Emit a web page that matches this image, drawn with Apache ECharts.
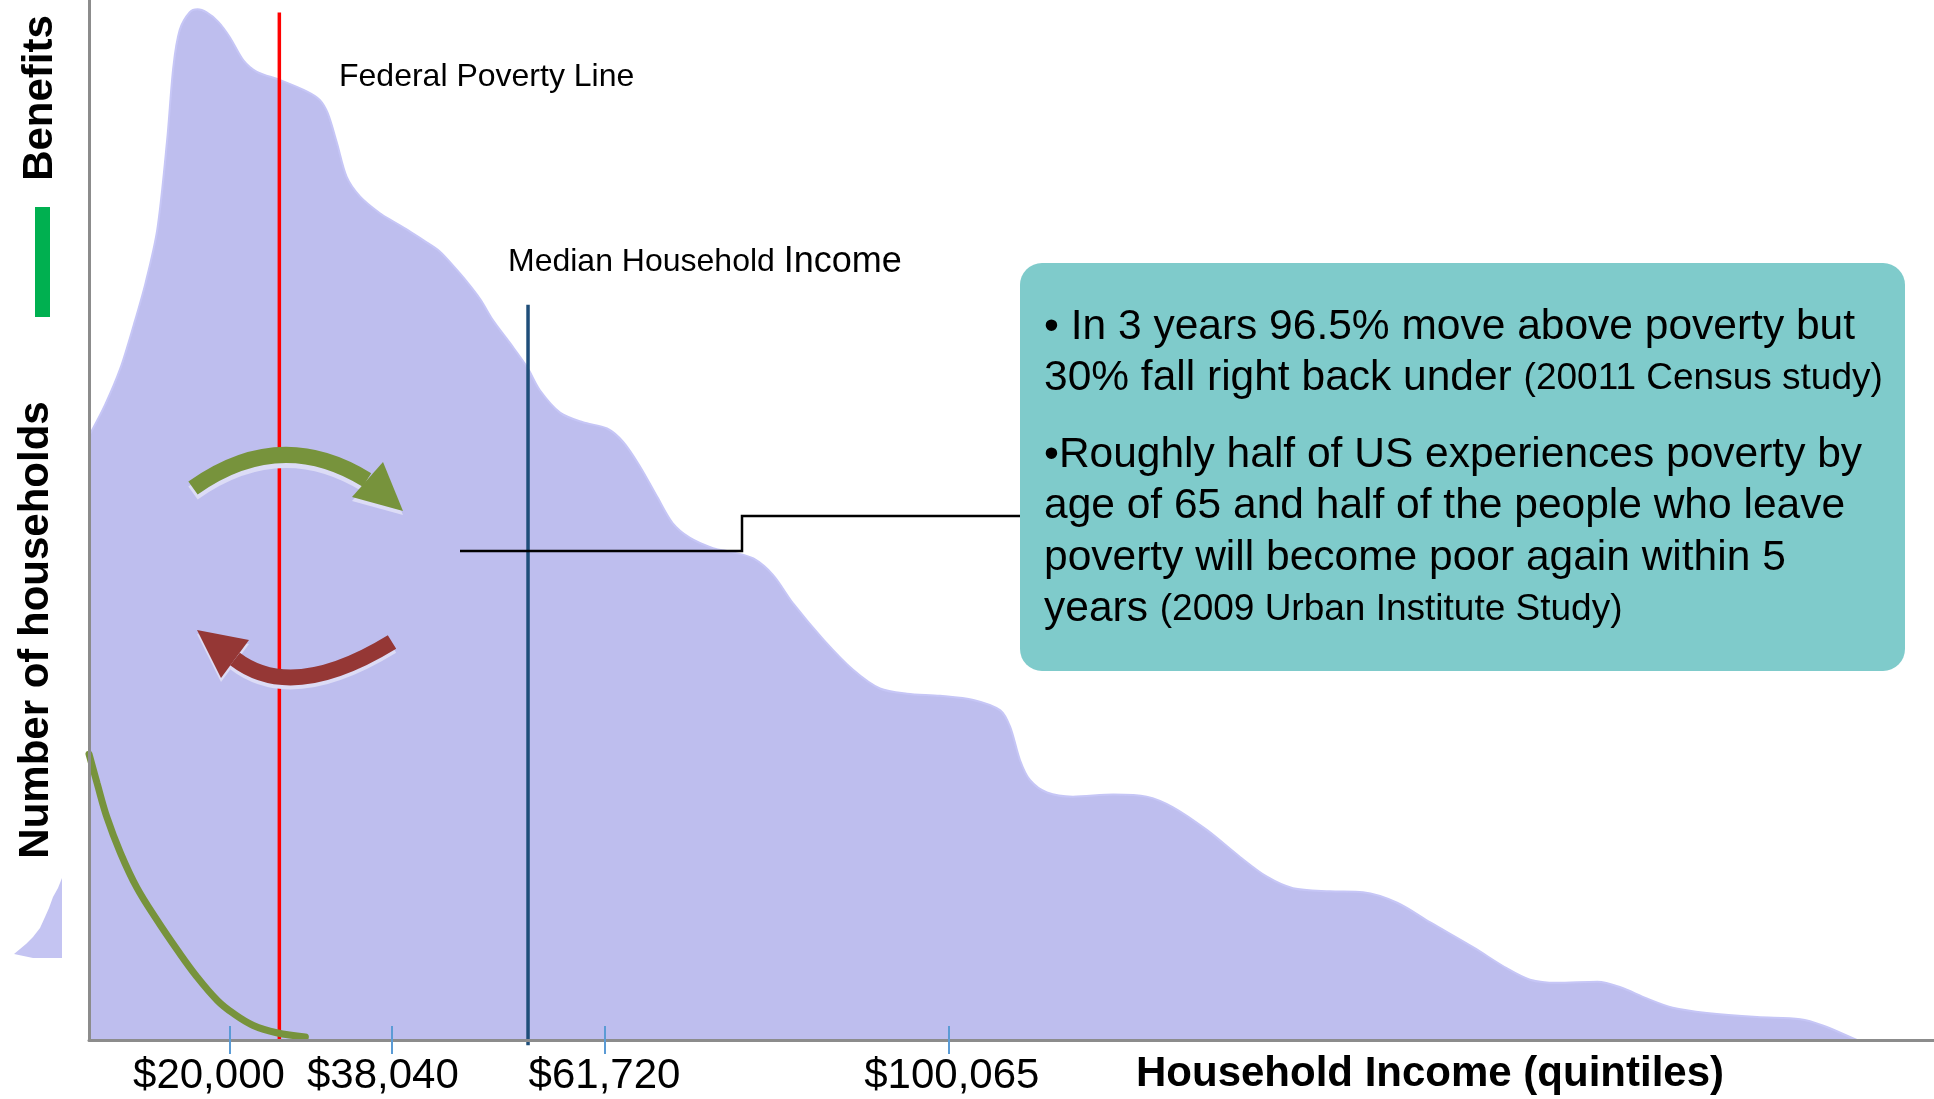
<!DOCTYPE html>
<html>
<head>
<meta charset="utf-8">
<style>
  html, body { margin: 0; padding: 0; background: #ffffff; }
  #chart { width: 1934px; height: 1099px; }
</style>
<script src="https://cdn.jsdelivr.net/npm/echarts@6/dist/echarts.min.js"></script>
</head>
<body>
<div id="chart"></div>
<script>
// ---------------- data ----------------
// Household income ($) and relative number of households (0-100 scale)
const INCOME = [
  4300, 6100, 7800, 9300, 10600, 11900, 13000, 13700, 14400, 15500, 16400,
  17400, 18700, 20000, 21500, 23000, 25600, 28600, 30000, 30900, 31900,
  33000, 34500, 36700, 38200, 40100, 41900, 43400, 44800, 46400, 47900,
  49300, 51200, 53100, 54500, 56800, 59300, 62000, 63800, 65700, 67600,
  69300, 71200, 73800, 76000, 78300, 80500, 82700, 86100, 89400, 92400,
  95400, 99100, 102800, 105800, 106900, 108000, 109100, 111000, 113900, 118400,
  122100, 125000, 128800, 132500, 135500, 138400, 142500, 146200, 150000, 153700,
  158500, 162200, 164800, 167800, 172300, 174800, 177800, 180700, 184500, 190100,
  194900, 197400, 201200
];
const HOUSEHOLDS = [
  58.1, 61.1, 64.6, 68.8, 72.8, 77.9, 86.5, 93.6, 97.1, 98.8, 99.1,
  98.8, 97.9, 96.4, 94.2, 93.1, 92.3, 91.2, 90.4, 89.1, 86.3,
  83.0, 81.1, 79.5, 78.7, 77.7, 76.7, 75.8, 74.5, 72.9, 71.2,
  69.2, 67.0, 64.7, 62.5, 60.3, 59.4, 58.8, 57.5, 55.1, 52.2,
  49.7, 48.3, 47.3, 46.9, 46.3, 44.7, 42.0, 38.5, 35.6, 33.8,
  33.3, 33.1, 32.7, 31.7, 30.1, 26.9, 25.0, 23.8, 23.4, 23.6,
  23.4, 22.4, 20.2, 17.6, 15.7, 14.6, 14.3, 14.2, 13.2, 11.3,
  8.9, 6.9, 5.8, 5.5, 5.6, 5.1, 4.0, 3.1, 2.6, 2.2,
  2.0, 1.4, 0.0
];
// Benefits curve (same scales)
const BENEFIT_INCOME = [4300, 5200, 6300, 7800, 9600, 11900, 14100, 16300, 18600, 20300, 22600, 25200, 28400];
const BENEFIT_LEVEL  = [27.5, 24.7, 21.4, 18.0, 14.7, 11.5, 8.7, 6.1, 3.8, 2.6, 1.4, 0.7, 0.3];
// Reference lines
const POVERTY_LINE = 25500;
const POVERTY_LINE_TOP = 98.8;
const MEDIAN_INCOME = 53200;
const MEDIAN_LINE_TOP = 70.7;
// Axis
const X_MIN = 4300;
const X_MAX = 209800;
const TICK_VALUES = [20000, 38040, 61720, 100065];
const TICK_LABELS = ['$20,000', '$38,040', '$61,720', '$100,065'];
// Texts
const X_TITLE = 'Household Income (quintiles)';
const Y_TITLE = 'Number of households';
const Y_TITLE_TOP = 'Benefits';
const POVERTY_LABEL = 'Federal Poverty Line';
const MEDIAN_LABEL_A = 'Median Household ';
const MEDIAN_LABEL_B = 'Income';
const BOX_LINES = [
  ['• In 3 years 96.5% move above poverty but', ''],
  ['30% fall right back under ', '(20011 Census study)'],
  ['•Roughly half of US experiences poverty by', ''],
  ['age of 65 and half of the people who leave', ''],
  ['poverty will become poor again within 5', ''],
  ['years ', '(2009 Urban Institute Study)']
];

// ---------------- chart ----------------
const FONT = "'Liberation Sans', Arial, Helvetica, sans-serif";
const households = INCOME.map((x, i) => [x, HOUSEHOLDS[i]]);
const benefits = BENEFIT_INCOME.map((x, i) => [x, BENEFIT_LEVEL[i]]);
const tickLabelOf = v => {
  const i = TICK_VALUES.indexOf(v);
  return i >= 0 ? '{t' + i + '|' + TICK_LABELS[i] + '}' : '';
};
const tickBase = { fontSize: 42, fontFamily: FONT, color: '#000' };
const tickRich = {
  t0: Object.assign({ padding: [0, 42, 0, 0] }, tickBase),
  t1: Object.assign({ padding: [0, 18, 0, 0] }, tickBase),
  t2: Object.assign({}, tickBase),
  t3: Object.assign({ padding: [0, 0, 0, 6] }, tickBase)
};

const boxLineY = [327, 378.5, 455, 506.5, 558, 609.5];
const boxTexts = BOX_LINES.map((pair, i) => ({
  type: 'text',
  x: 1044,
  y: boxLineY[i] - 24,
  z: 120,
  style: {
    text: pair[1] ? '{a|' + pair[0] + '}{b|' + pair[1] + '}' : '{a|' + pair[0] + '}',
    rich: {
      a: { fontSize: 42.5, fontFamily: FONT, fill: '#000', height: 48 },
      b: { fontSize: 37, fontFamily: FONT, fill: '#000', height: 48 }
    }
  }
}));

function arc(x1, y1, cx, cy, x2, y2, color, z) {
  return {
    type: 'bezierCurve', z: z,
    shape: { x1: x1, y1: y1, x2: x2, y2: y2, cpx1: cx, cpy1: cy },
    style: { stroke: color, lineWidth: 16, fill: null, lineCap: 'butt' }
  };
}

const chart = echarts.init(document.getElementById('chart'), null, { renderer: 'canvas' });
chart.setOption({
  backgroundColor: '#ffffff',
  animation: false,
  grid: { left: 89, right: 0, top: 0, bottom: 59, containLabel: false, outerBoundsMode: 'none' },
  xAxis: [
    {
      type: 'value', min: X_MIN, max: X_MAX, position: 'bottom', z: 10,
      axisLine: { show: true, lineStyle: { color: '#8c8c8c', width: 3 } },
      axisTick: { show: true, length: 14, customValues: TICK_VALUES, lineStyle: { color: '#5b9bd5', width: 2 } },
      axisLabel: {
        show: true, customValues: TICK_VALUES, margin: 15,
        formatter: tickLabelOf, rich: tickRich,
        fontSize: 42, fontFamily: FONT, color: '#000'
      },
      splitLine: { show: false }
    },
    {
      // second copy of the ticks, drawn upward from the baseline
      type: 'value', min: X_MIN, max: X_MAX, position: 'top', offset: -1040, z: 10,
      axisLine: { show: false },
      axisTick: { show: true, inside: false, length: 14, customValues: TICK_VALUES, lineStyle: { color: '#5b9bd5', width: 2 } },
      axisLabel: { show: false },
      splitLine: { show: false }
    }
  ],
  yAxis: {
    type: 'value', min: 0, max: 100, z: 10,
    axisLine: { show: true, lineStyle: { color: '#8c8c8c', width: 3 } },
    axisTick: { show: false },
    axisLabel: { show: false },
    splitLine: { show: false }
  },
  series: [
    {
      name: 'Households', type: 'line', data: households,
      smooth: 0.3, showSymbol: false, symbol: 'none', z: 1,
      lineStyle: { color: '#c6c6f6', width: 2 },
      areaStyle: { color: '#bebeee', opacity: 1 }
    },
    {
      name: 'Federal Poverty Line', type: 'line',
      data: [[POVERTY_LINE, 0], [POVERTY_LINE, POVERTY_LINE_TOP]],
      showSymbol: false, symbol: 'none', z: 3, clip: false,
      lineStyle: { color: '#ff0000', width: 3.5 }
    },
    {
      name: 'Median Household Income', type: 'line',
      data: [[MEDIAN_INCOME, -0.5], [MEDIAN_INCOME, MEDIAN_LINE_TOP]],
      showSymbol: false, symbol: 'none', z: 3, clip: false,
      lineStyle: { color: '#1f4e79', width: 3.5 }
    },
    {
      name: 'Benefits', type: 'line', data: benefits,
      smooth: 0.4, showSymbol: false, symbol: 'none', z: 4, clip: false,
      lineStyle: { color: '#77933c', width: 7, cap: 'round' }
    }
  ],
  graphic: [
    // left titles
    {
      type: 'text', x: 40, y: 98, rotation: Math.PI / 2, z: 100,
      style: { text: Y_TITLE_TOP, font: 'bold 42px ' + FONT, fill: '#000', align: 'center', verticalAlign: 'middle' }
    },
    { type: 'rect', z: 100, shape: { x: 35, y: 207, width: 15, height: 110 }, style: { fill: '#00b050' } },
    {
      type: 'text', x: 36, y: 630, rotation: Math.PI / 2, z: 100,
      style: { text: Y_TITLE, font: 'bold 42px ' + FONT, fill: '#000', align: 'center', verticalAlign: 'middle' }
    },
    // small decorative distribution glyph
    {
      type: 'polygon', z: 100,
      shape: { points: [[62, 878], [62, 958], [33, 958], [14, 954], [26, 944], [33, 937], [40, 928], [45, 917], [49, 908], [53, 897], [58, 888]] },
      style: { fill: '#c4c4f2' }
    },
    // x title
    {
      type: 'text', x: 1136, y: 1074, z: 100,
      style: { text: X_TITLE, font: 'bold 42px ' + FONT, fill: '#000', align: 'left', verticalAlign: 'middle' }
    },
    // line labels
    {
      type: 'text', x: 339, y: 77, z: 100,
      style: { text: POVERTY_LABEL, font: '32px ' + FONT, fill: '#000', align: 'left', verticalAlign: 'middle' }
    },
    {
      type: 'text', x: 508, y: 240, z: 100,
      style: {
        text: '{a|' + MEDIAN_LABEL_A + '}{b|' + MEDIAN_LABEL_B + '}',
        rich: {
          a: { fontSize: 32, fontFamily: FONT, fill: '#000', height: 44 },
          b: { fontSize: 36, fontFamily: FONT, fill: '#000', height: 44 }
        }
      }
    },
    // arrows (light reflections first)
    arc(193, 493, 280, 431, 367, 485, '#dcdcf6', 100),
    arc(193, 488, 280, 426, 367, 480, '#77933c', 101),
    { type: 'polygon', z: 100, shape: { points: [[383, 466], [403, 515], [352, 501]] }, style: { fill: '#dcdcf6' } },
    { type: 'polygon', z: 101, shape: { points: [[383, 462], [403, 511], [352, 497]] }, style: { fill: '#77933c' } },
    arc(392, 646, 292.5, 707, 235, 663, '#dcdcf6', 100),
    arc(392, 642, 292.5, 703, 235, 659, '#953735', 101),
    { type: 'polygon', z: 100, shape: { points: [[197, 634], [249, 644], [221, 682]] }, style: { fill: '#dcdcf6' } },
    { type: 'polygon', z: 101, shape: { points: [[197, 630], [249, 640], [221, 678]] }, style: { fill: '#953735' } },
    // connector
    {
      type: 'polyline', z: 102,
      shape: { points: [[460, 551], [742, 551], [742, 516], [1024, 516]] },
      style: { stroke: '#000', lineWidth: 2.5, fill: null }
    },
    // text box
    {
      type: 'rect', z: 110,
      shape: { x: 1020, y: 263, width: 885, height: 408, r: 22 },
      style: { fill: '#7fcbcb' }
    }
  ].concat(boxTexts)
});
</script>
</body>
</html>
